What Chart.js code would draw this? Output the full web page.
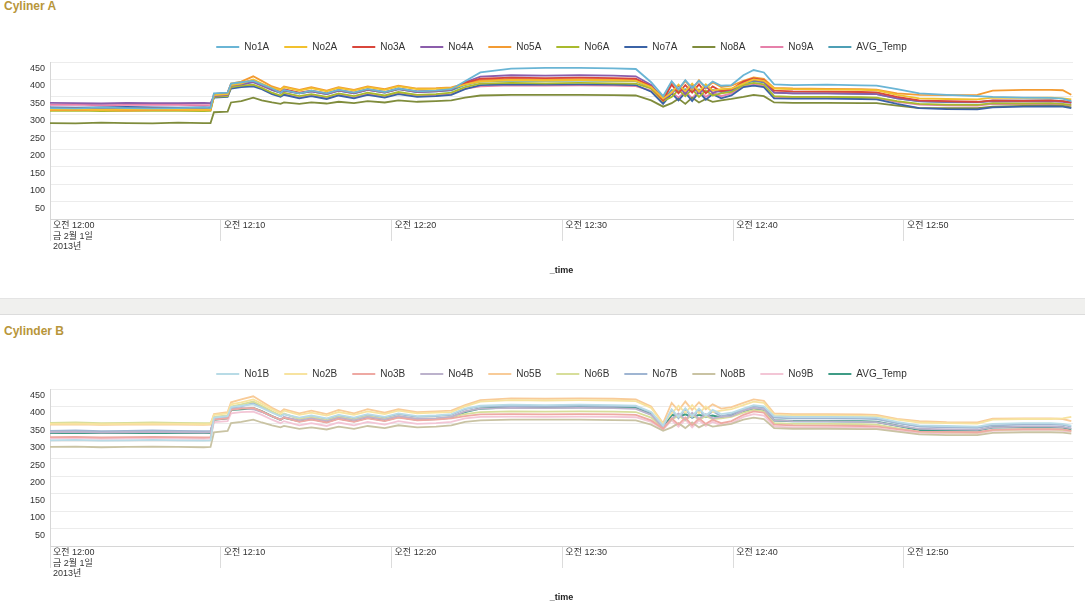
<!DOCTYPE html>
<html>
<head>
<meta charset="utf-8">
<script src="https://cdn.jsdelivr.net/npm/chart.js@4.4.0/dist/chart.umd.min.js"></script>
<style>
body { margin: 0; width: 1085px; height: 611px; overflow: hidden; background: #fff; font-family: 'Liberation Sans', 'Noto Sans CJK KR', sans-serif; }
.title { position: absolute; left: 4px; font-size: 12px; font-weight: bold; color: #b8963a; }
.box { position: absolute; left: 0; width: 1085px; height: 278px; }
.gap { position: absolute; left: 0; top: 298px; width: 1085px; height: 15px; background: #f0f0ee; border-top: 1px solid #e4e4e4; border-bottom: 1px solid #dcdcdc; }
</style>
</head>
<body>
<div class="title" style="top:-1px">Cyliner A</div>
<div class="box" style="top:20px"><canvas id="chartA"></canvas></div>
<div class="gap"></div>
<div class="title" style="top:324px">Cylinder B</div>
<div class="box" style="top:347px"><canvas id="chartB"></canvas></div>
<script>
// minutes after 12:00
const times = [0, 1.5, 3, 4.5, 6, 7.5, 9, 9.4,
    9.6, 10.4, 10.6, 11.2, 11.9, 12.4, 13.0, 13.5,
    13.7, 14.6, 15.3, 16.2, 16.9, 17.8, 18.6, 19.6,
    20.4, 21.5, 22.6, 23.5, 24.3, 25.2, 27, 29,
    31, 33, 34.3, 35.2, 35.9, 36.4, 36.8, 37.2,
    37.6, 38.0, 38.4, 38.8, 39.3, 39.9, 40.6, 41.2,
    41.8, 42.4, 43.5, 45.5, 47.5, 48.4, 49.6, 50.9,
    52.5, 54.3, 55.2, 57, 58.6, 59.3, 59.8];

const xTickValues = [0, 10, 20, 30, 40, 50];
const xTickLabels = [['오전 12:00', '금 2월 1일', '2013년'], '오전 12:10', '오전 12:20', '오전 12:30', '오전 12:40', '오전 12:50'];

const namesA = ['No1A', 'No2A', 'No3A', 'No4A', 'No5A', 'No6A', 'No7A', 'No8A', 'No9A', 'AVG_Temp'];
const namesB = ['No1B', 'No2B', 'No3B', 'No4B', 'No5B', 'No6B', 'No7B', 'No8B', 'No9B', 'AVG_Temp'];

const colorsA = ['#6ab5d5', '#f2c12e', '#d9463b', '#8b5dab', '#f39b32', '#a9ba2d', '#3b63a6', '#7f8c3c', '#e680aa', '#4d9fb5'];
const colorsB = ['#b8dbe6', '#f7e3a0', '#eea9a3', '#bcb2cc', '#f8cb98', '#d7de9a', '#9fb5d2', '#c9c3a3', '#f3c6d6', '#3f9c86'];

// Cylinder A
const no1A = [318,317,319,318,317,318,319,318, 360,362,388,392,396,386,374,362, 370,360,368,360,370,362,372,364,
    374,366,368,372,395,420,431,433, 433,432,430,392,352,395,372,398, 376,396,378,394,382,384,412,427,
    420,386,384,385,383,382,372,360, 356,352,350,348,347,345,338];
const no2A = [314,315,313,314,315,314,313,314, 355,358,384,388,400,388,376,370, 378,368,375,366,376,368,378,370,
    380,372,373,375,385,394,398,397, 398,397,396,378,345,362,385,366, 388,365,386,368,372,374,388,400,
    396,374,372,371,370,369,356,346, 344,343,348,347,348,346,343];
const no3A = [316,317,315,316,317,316,315,316, 358,362,386,390,398,386,374,364, 372,362,368,360,370,362,372,364,
    374,366,368,372,390,402,405,404, 405,404,402,380,340,385,360,384, 362,386,360,380,366,372,394,403,
    398,368,366,365,364,363,350,340, 338,336,340,339,340,338,334];
const no4A = [333,332,331,333,332,332,333,332, 352,356,382,386,392,382,370,362, 368,360,366,358,368,360,370,362,
    372,364,366,370,392,408,412,411, 412,411,409,384,342,360,382,358, 384,360,380,362,368,370,392,398,
    394,362,360,360,359,358,346,338, 336,335,338,337,338,336,333];
const no5A = [312,313,312,311,312,313,312,312, 354,360,388,394,409,396,380,372, 380,370,378,368,378,370,380,372,
    382,374,375,377,388,398,401,400, 401,400,398,382,348,392,370,396, 372,398,374,392,378,382,396,406,
    402,376,374,373,372,371,360,356, 355,356,368,370,370,369,356];
const no6A = [310,311,309,310,311,310,309,310, 350,352,378,382,385,376,362,354, 362,352,358,350,360,352,362,354,
    364,356,358,362,378,388,390,389, 390,389,388,374,338,350,370,352, 372,350,368,354,360,364,384,390,
    386,352,350,350,349,348,338,330, 328,327,332,331,332,330,327];
const no7A = [320,319,320,321,320,319,320,320, 348,350,374,378,380,372,358,350, 356,346,352,344,354,346,356,348,
    358,350,352,356,372,384,386,385, 386,385,384,365,330,360,340,362, 338,364,342,358,346,354,378,382,
    378,346,345,345,344,343,330,318, 315,314,320,322,323,322,318];
const no8A = [275,274,276,275,274,276,275,275, 306,308,334,338,348,340,334,330, 334,330,334,331,336,332,338,334,
    340,336,338,340,348,354,356,356, 356,355,354,340,322,332,345,330, 348,334,344,336,340,344,350,356,
    352,334,333,333,332,332,325,318, 318,318,322,324,325,324,320];
const no9A = [327,328,326,327,328,327,326,327, 352,354,378,380,383,374,360,352, 358,348,354,346,356,348,358,350,
    360,352,354,358,374,380,383,382, 383,382,381,368,335,364,348,366, 346,368,350,362,352,360,380,385,
    382,350,348,348,347,346,336,328, 326,325,330,329,330,328,325];
const avgA = [315,315,315,316,315,315,316,315, 354,357,382,386,393,384,370,362, 369,360,366,358,368,360,370,362,
    372,364,366,369,384,394,397,396, 397,396,395,376,340,370,365,372, 366,371,364,370,364,368,388,395,
    392,362,360,360,359,358,346,337, 335,334,339,339,340,338,334];

// Cylinder B
const no1B = [303,304,302,303,304,303,302,303, 368,372,398,402,406,396,382,372, 378,368,374,366,376,368,378,370,
    380,372,374,378,394,402,405,404, 405,404,402,384,345,392,370,395, 372,394,374,390,378,382,394,404,
    400,372,370,370,369,368,356,346, 344,342,350,352,352,350,345];
const no2B = [350,351,349,350,351,350,349,350, 376,380,406,412,420,408,392,380, 388,376,382,374,384,376,386,378,
    388,380,382,384,400,414,418,417, 418,417,415,396,350,380,402,382, 404,380,400,384,388,392,404,414,
    410,376,374,374,373,372,362,354, 352,351,362,364,364,366,370];
const no3B = [312,313,311,312,313,312,311,312, 362,366,390,394,396,386,372,362, 368,356,362,354,364,356,366,358,
    368,360,362,366,372,377,378,377, 378,377,376,360,336,366,348,368, 346,366,350,362,352,358,376,386,
    382,348,346,345,344,343,335,328, 327,326,333,335,335,334,330];
const no4B = [326,327,325,326,327,326,325,326, 365,368,392,396,392,384,372,362, 370,360,366,358,368,360,370,362,
    372,364,366,370,386,394,396,395, 396,395,393,376,340,364,380,362, 382,364,378,366,370,372,388,396,
    392,360,358,357,356,355,345,336, 334,333,340,342,342,341,337];
const no5B = [348,349,347,348,349,348,347,348, 378,384,412,420,429,414,396,384, 392,380,388,378,390,380,392,382,
    392,384,386,388,404,418,423,422, 423,422,420,400,352,410,388,414, 390,412,392,406,394,398,410,420,
    416,380,378,378,377,376,364,358, 355,354,365,366,366,364,358];
const no6B = [353,354,352,353,354,353,352,353, 370,374,400,406,414,402,386,374, 380,364,370,360,370,362,372,364,
    372,364,366,370,378,384,386,385, 386,385,384,368,338,362,374,360, 376,362,372,364,366,370,382,390,
    386,352,350,350,349,348,338,328, 326,325,332,334,334,333,330];
const no7B = [330,331,329,330,331,330,329,330, 366,370,396,400,410,398,384,372, 378,366,372,364,374,366,376,368,
    378,370,372,376,392,400,402,401, 402,401,400,382,342,390,366,392, 368,390,370,386,372,378,392,400,
    396,368,366,366,365,364,352,342, 340,339,346,348,348,347,342];
const no8B = [284,285,283,284,285,284,283,284, 326,330,352,356,362,354,346,340, 344,336,340,334,342,336,344,338,
    346,340,342,346,356,360,362,362, 362,361,360,348,330,340,352,338, 354,340,350,342,346,350,362,368,
    364,338,336,336,335,335,328,320, 318,318,324,326,326,325,322];
const no9B = [308,309,307,308,309,308,307,308, 355,358,380,384,385,376,362,352, 358,346,352,344,354,346,356,348,
    358,350,352,356,366,370,371,370, 371,370,369,356,334,360,342,362, 340,360,344,356,346,352,370,378,
    374,342,340,340,339,338,330,324, 323,322,330,332,332,330,327];
const avgB = [324,325,324,324,325,324,324,324, 362,366,390,392,395,386,372,362, 368,358,364,356,366,358,368,360,
    370,362,364,368,384,394,398,397, 398,397,396,378,340,376,370,378, 368,376,370,374,368,374,386,394,
    390,360,358,358,357,356,345,333, 331,331,340,341,341,340,334];

const seriesA = [no1A, no2A, no3A, no4A, no5A, no6A, no7A, no8A, no9A, avgA];
const seriesB = [no1B, no2B, no3B, no4B, no5B, no6B, no7B, no8B, no9B, avgB];

Chart.defaults.font.family = "'Liberation Sans', 'Noto Sans CJK KR', sans-serif";
Chart.defaults.font.size = 9;
Chart.defaults.color = '#333';

function drawChart(id, names, series, colors, avgWidth) {
    var ctx = document.getElementById(id).getContext('2d');
    return new Chart(ctx, {
        type: 'line',
        data: {
            datasets: names.map(function (name, i) {
                return {
                    label: name,
                    data: times.map(function (t, j) { return { x: t, y: series[i][j] }; }),
                    borderColor: colors[i],
                    backgroundColor: colors[i],
                    borderWidth: i === names.length - 1 ? avgWidth : 1.8,
                    pointRadius: 0,
                    tension: 0
                };
            })
        },
        options: {
            responsive: true,
            maintainAspectRatio: false,
            animation: false,
            layout: { padding: { top: 7, left: 0, right: 12, bottom: 0 } },
            plugins: {
                legend: {
                    fullSize: false,
                    labels: {
                        boxWidth: 23,
                        boxHeight: 2,
                        padding: 15,
                        font: { size: 10 },
                        generateLabels: function (chart) {
                            var items = Chart.defaults.plugins.legend.labels.generateLabels(chart);
                            items.forEach(function (it) { it.lineWidth = 0; });
                            return items;
                        }
                    }
                },
                tooltip: { enabled: false }
            },
            scales: {
                x: {
                    type: 'linear',
                    min: 0,
                    max: 59.9,
                    afterBuildTicks: function (scale) {
                        scale.ticks = xTickValues.map(function (v) { return { value: v }; });
                    },
                    afterFit: function (scale) { scale.height = 79; },
                    grid: { drawOnChartArea: false, tickLength: 22, color: '#dcdcdc' },
                    border: { color: '#d6d6d6' },
                    ticks: {
                        align: 'start',
                        padding: -21,
                        labelOffset: 3,
                        maxRotation: 0,
                        autoSkip: false,
                        callback: function (v, i) { return xTickLabels[i]; }
                    },
                    title: {
                        display: true,
                        text: '_time',
                        color: '#222',
                        font: { size: 9, weight: 'bold' },
                        padding: { top: 0, bottom: 22 }
                    }
                },
                y: {
                    min: 0,
                    max: 450,
                    afterFit: function (scale) { scale.width = 50; },
                    grid: { drawTicks: false, color: '#ececec' },
                    border: { color: '#d6d6d6' },
                    ticks: {
                        stepSize: 50,
                        padding: 5,
                        labelOffset: 6.5,
                        callback: function (v) { return v === 0 ? '' : v; }
                    }
                }
            }
        }
    });
}

drawChart('chartA', namesA, seriesA, colorsA, 1.8);
drawChart('chartB', namesB, seriesB, colorsB, 2.2);
</script>
</body>
</html>
